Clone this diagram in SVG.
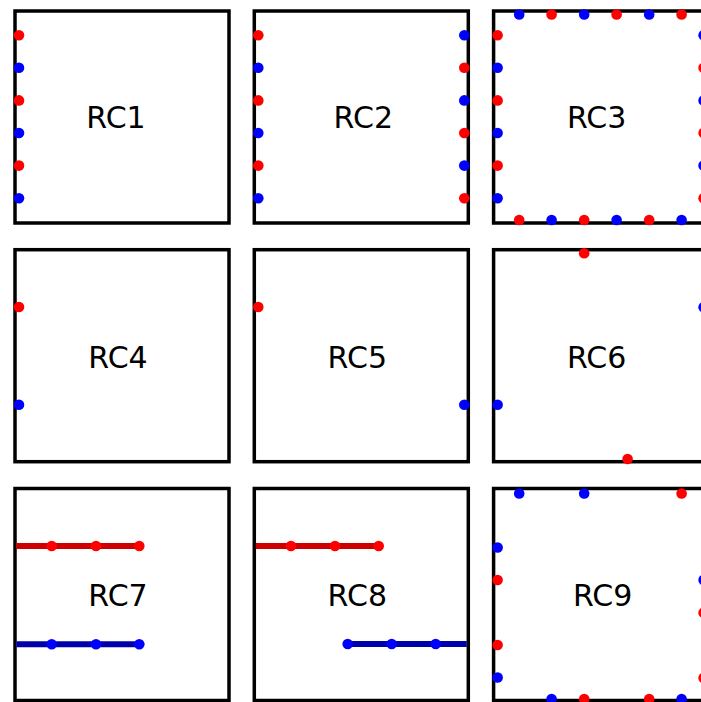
<svg xmlns="http://www.w3.org/2000/svg" width="701" height="702" viewBox="0 0 701 702">
  <style>
    .box { fill: #ffffff; stroke: #000000; stroke-width: 3.5; }
    .lbl { font-family: "DejaVu Sans", "Liberation Sans", sans-serif; font-size: 30px; fill: #000000; text-anchor: middle; }
    .r { fill: #ff0000; }
    .b { fill: #0000ff; }
    .rl { stroke: #cc0000; stroke-width: 6; fill: none; }
    .bl { stroke: #0000aa; stroke-width: 6; fill: none; }
  </style>
  <defs>
    <circle id="d" r="5.3"/>
  </defs>
  <rect width="701" height="702" fill="#ffffff"/>

  <!-- RC1: six pins on the left edge -->
  <g id="rc1" transform="translate(15,11)">
    <rect class="box" width="214" height="212"/>
    <use href="#d" class="r" x="4" y="24.2"/>
    <use href="#d" class="b" x="4" y="56.8"/>
    <use href="#d" class="r" x="4" y="89.4"/>
    <use href="#d" class="b" x="4" y="122"/>
    <use href="#d" class="r" x="4" y="154.6"/>
    <use href="#d" class="b" x="4" y="187.2"/>
    <text class="lbl" x="101" y="117.3">RC1</text>
  </g>

  <!-- RC2: pins on left and right edges -->
  <g id="rc2" transform="translate(254.3,11)">
    <rect class="box" width="214" height="212"/>
    <use href="#d" class="r" x="4" y="24.2"/>
    <use href="#d" class="b" x="4" y="56.8"/>
    <use href="#d" class="r" x="4" y="89.4"/>
    <use href="#d" class="b" x="4" y="122"/>
    <use href="#d" class="r" x="4" y="154.6"/>
    <use href="#d" class="b" x="4" y="187.2"/>
    <use href="#d" class="b" x="210" y="24.2"/>
    <use href="#d" class="r" x="210" y="56.8"/>
    <use href="#d" class="b" x="210" y="89.4"/>
    <use href="#d" class="r" x="210" y="122"/>
    <use href="#d" class="b" x="210" y="154.6"/>
    <use href="#d" class="r" x="210" y="187.2"/>
    <text class="lbl" x="109" y="117.3">RC2</text>
  </g>

  <!-- RC3: pins on all four edges -->
  <g id="rc3" transform="translate(493.6,11)">
    <rect class="box" width="214" height="212"/>
    <use href="#d" class="b" x="25.6" y="3.5"/>
    <use href="#d" class="r" x="58" y="3.5"/>
    <use href="#d" class="b" x="90.6" y="3.5"/>
    <use href="#d" class="r" x="123" y="3.5"/>
    <use href="#d" class="b" x="155.6" y="3.5"/>
    <use href="#d" class="r" x="188" y="3.5"/>
    <use href="#d" class="r" x="4" y="24.2"/>
    <use href="#d" class="b" x="4" y="56.8"/>
    <use href="#d" class="r" x="4" y="89.4"/>
    <use href="#d" class="b" x="4" y="122"/>
    <use href="#d" class="r" x="4" y="154.6"/>
    <use href="#d" class="b" x="4" y="187.2"/>
    <use href="#d" class="b" x="210" y="24.2"/>
    <use href="#d" class="r" x="210" y="56.8"/>
    <use href="#d" class="b" x="210" y="89.4"/>
    <use href="#d" class="r" x="210" y="122"/>
    <use href="#d" class="b" x="210" y="154.6"/>
    <use href="#d" class="r" x="210" y="187.2"/>
    <use href="#d" class="r" x="25.6" y="209"/>
    <use href="#d" class="b" x="58" y="209"/>
    <use href="#d" class="r" x="90.6" y="209"/>
    <use href="#d" class="b" x="123" y="209"/>
    <use href="#d" class="r" x="155.6" y="209"/>
    <use href="#d" class="b" x="188" y="209"/>
    <text class="lbl" x="103" y="117.3">RC3</text>
  </g>

  <!-- RC4 -->
  <g id="rc4" transform="translate(15,249.7)">
    <rect class="box" width="214" height="212"/>
    <use href="#d" class="r" x="4" y="57.3"/>
    <use href="#d" class="b" x="4" y="155"/>
    <text class="lbl" x="103" y="118">RC4</text>
  </g>

  <!-- RC5 -->
  <g id="rc5" transform="translate(254.3,249.7)">
    <rect class="box" width="214" height="212"/>
    <use href="#d" class="r" x="4" y="57.3"/>
    <use href="#d" class="b" x="210" y="155"/>
    <text class="lbl" x="103" y="118">RC5</text>
  </g>

  <!-- RC6 -->
  <g id="rc6" transform="translate(493.6,249.7)">
    <rect class="box" width="214" height="212"/>
    <use href="#d" class="r" x="90.6" y="3.6"/>
    <use href="#d" class="b" x="210" y="57.5"/>
    <use href="#d" class="b" x="4" y="155"/>
    <use href="#d" class="r" x="134" y="209.3"/>
    <text class="lbl" x="103" y="118">RC6</text>
  </g>

  <!-- RC7 -->
  <g id="rc7" transform="translate(15,488.5)">
    <rect class="box" width="214" height="212"/>
    <text class="lbl" x="103" y="117.5">RC7</text>
  </g>

  <!-- RC8 -->
  <g id="rc8" transform="translate(254.3,488.5)">
    <rect class="box" width="214" height="212"/>
    <text class="lbl" x="103" y="117.5">RC8</text>
  </g>

  <!-- RC9 -->
  <g id="rc9" transform="translate(493.6,488.5)">
    <rect class="box" width="214" height="212"/>
    <use href="#d" class="b" x="25.6" y="5"/>
    <use href="#d" class="b" x="90.6" y="5"/>
    <use href="#d" class="r" x="188" y="5"/>
    <use href="#d" class="b" x="4" y="59"/>
    <use href="#d" class="r" x="4" y="91.5"/>
    <use href="#d" class="r" x="4" y="156.5"/>
    <use href="#d" class="b" x="4" y="189"/>
    <use href="#d" class="b" x="210" y="91.5"/>
    <use href="#d" class="r" x="210" y="124.2"/>
    <use href="#d" class="r" x="210" y="189.5"/>
    <use href="#d" class="b" x="58" y="210.5"/>
    <use href="#d" class="r" x="90.6" y="210.5"/>
    <use href="#d" class="r" x="155.6" y="210.5"/>
    <use href="#d" class="b" x="188" y="210.5"/>
    <text class="lbl" x="109" y="117.5">RC9</text>
  </g>

  <!-- wires with taps -->
  <g id="connectors">
    <g transform="translate(15,488.5)">
      <line class="rl" x1="1.5" y1="57.5" x2="124.3" y2="57.5"/>
      <use href="#d" class="r" x="36.7" y="57.5"/>
      <use href="#d" class="r" x="81" y="57.5"/>
      <use href="#d" class="r" x="124.3" y="57.5"/>
      <line class="bl" x1="1.5" y1="155.8" x2="124.3" y2="155.8"/>
      <use href="#d" class="b" x="36.7" y="155.8"/>
      <use href="#d" class="b" x="81" y="155.8"/>
      <use href="#d" class="b" x="124.3" y="155.8"/>
    </g>
    <g transform="translate(254.3,488.5)">
      <line class="rl" x1="1.5" y1="57.5" x2="124.4" y2="57.5"/>
      <use href="#d" class="r" x="36.7" y="57.5"/>
      <use href="#d" class="r" x="80.7" y="57.5"/>
      <use href="#d" class="r" x="124.4" y="57.5"/>
      <line class="bl" x1="93.4" y1="155.5" x2="212.5" y2="155.5"/>
      <use href="#d" class="b" x="93.4" y="155.5"/>
      <use href="#d" class="b" x="137.4" y="155.5"/>
      <use href="#d" class="b" x="181.4" y="155.5"/>
    </g>
  </g>
</svg>
